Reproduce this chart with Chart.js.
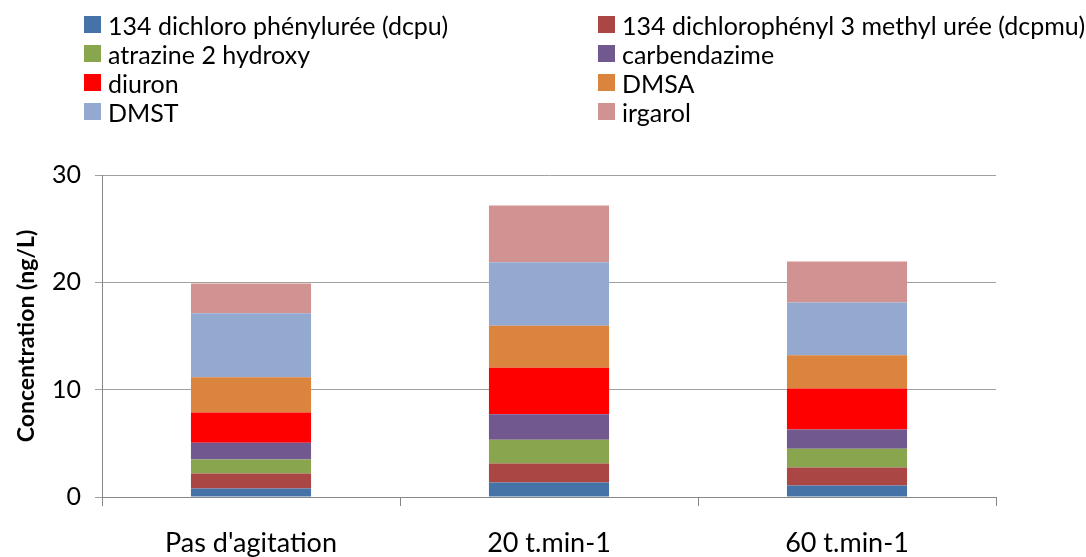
<!DOCTYPE html>
<html>
<head>
<meta charset="utf-8">
<script src="https://cdn.jsdelivr.net/npm/chart.js@4"></script>
<style>
    body { margin: 0; background: #fff; }
    .wrap { position: relative; width: 1086px; height: 557px; }
    #legend {
        position: absolute; left: 84px; top: 10px;
        display: grid; grid-template-columns: 514px 480px; grid-auto-rows: 29px;
        font-family: Lato, 'Open Sans', sans-serif; font-size: 25px; color: #000;
    }
    #legend .item { display: flex; align-items: center; white-space: nowrap; }
    #legend .box { width: 17px; height: 17px; margin-right: 7px; flex: none; }
</style>
</head>
<body>
<div class="wrap">
    <div id="legend"></div>
    <canvas id="chart" width="1086" height="557"></canvas>
</div>
<script>
const categories = ["Pas d'agitation", '20 t.min-1', '60 t.min-1'];
const seriesNames = [
    '134 dichloro phénylurée (dcpu)',
    '134 dichlorophényl 3 methyl urée (dcpmu)',
    'atrazine 2 hydroxy',
    'carbendazime',
    'diuron',
    'DMSA',
    'DMST',
    'irgarol'
];
const dcpu = [0.80, 1.36, 1.08];
const dcpmu = [1.40, 1.77, 1.68];
const atrazine = [1.30, 2.21, 1.74];
const carbendazime = [1.56, 2.36, 1.80];
const diuron = [2.82, 4.35, 3.82];
const dmsa = [3.27, 3.91, 3.08];
const dmst = [5.96, 5.90, 4.91];
const irgarol = [2.77, 5.29, 3.82];
const colors = ['#4572A7', '#AA4643', '#89A54E', '#71588F', '#FF0000', '#DB843D', '#93A9CF', '#D19392'];

const allValues = [dcpu, dcpmu, atrazine, carbendazime, diuron, dmsa, dmst, irgarol];
const font = "Lato, 'Open Sans', sans-serif";

const ctx = document.getElementById('chart').getContext('2d');
const chart = new Chart(ctx, {
    type: 'bar',
    data: {
        labels: categories,
        datasets: allValues.map((vals, i) => ({
            label: seriesNames[i],
            data: vals,
            backgroundColor: colors[i],
            borderWidth: 0,
            categoryPercentage: 1,
            barPercentage: 0.403
        }))
    },
    options: {
        responsive: false,
        animation: false,
        layout: { padding: { top: 175, right: 90, bottom: 0, left: 0 } },
        plugins: { legend: { display: false }, tooltip: { enabled: false } },
        scales: {
            x: {
                stacked: true,
                afterFit: (scale) => { scale.height = 60; },
                grid: { drawOnChartArea: false, drawTicks: true, tickLength: 9, color: '#868686' },
                border: { color: '#868686' },
                ticks: { color: '#000', font: { family: font, size: 27 }, padding: 21 }
            },
            y: {
                stacked: true,
                min: 0,
                max: 30,
                afterFit: (scale) => { scale.width = 102; },
                ticks: { stepSize: 10, color: '#000', font: { family: font, size: 25 }, padding: 14 },
                grid: { color: '#a0a0a0', tickLength: 7 },
                border: { color: '#868686' },
                title: {
                    display: true,
                    text: 'Concentration (ng/L)',
                    color: '#000',
                    font: { family: font, size: 23, weight: 'bold' },
                    padding: { top: 13, bottom: 0 }
                }
            }
        }
    }
});

// legende en deux colonnes, comme dans Excel
const legendDiv = document.getElementById('legend');
chart.data.datasets.forEach(ds => {
    const item = document.createElement('div');
    item.className = 'item';
    item.innerHTML = `<span class="box" style="background:${ds.backgroundColor}"></span><span>${ds.label}</span>`;
    legendDiv.appendChild(item);
});
</script>
</body>
</html>
